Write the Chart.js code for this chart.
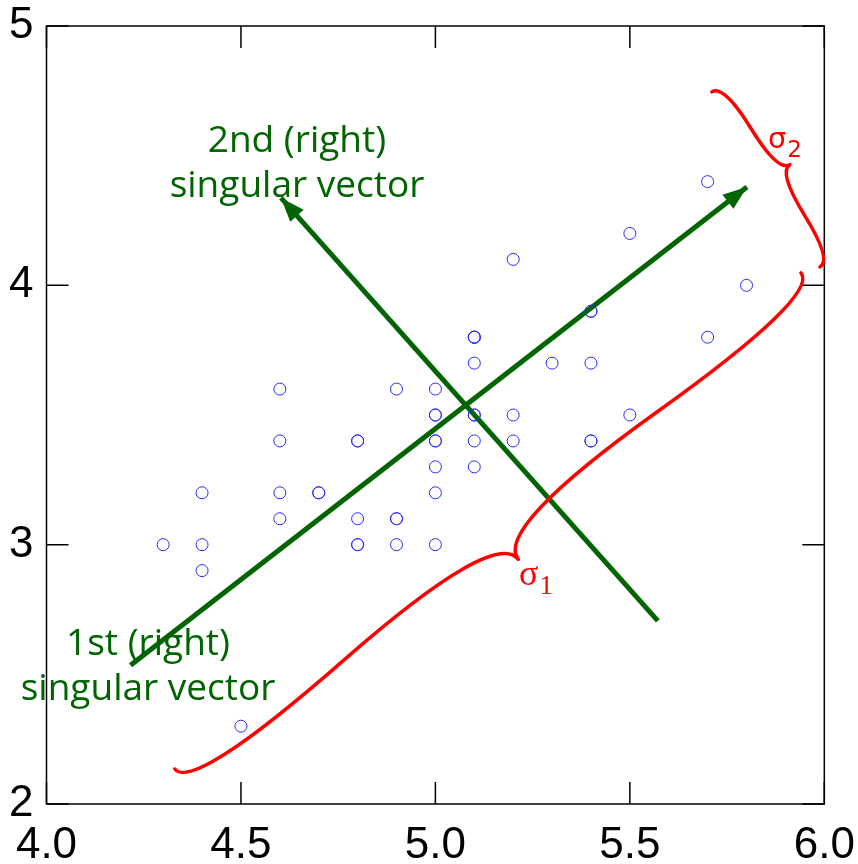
<!DOCTYPE html>
<html>
<head>
<meta charset="utf-8">
<script src="https://cdn.jsdelivr.net/npm/chart.js@4.4.0/dist/chart.umd.min.js"></script>
<style>
  html, body { margin: 0; padding: 0; background: #fff; overflow: hidden; }
  canvas { display: block; }
</style>
</head>
<body>
<canvas id="canvas" width="858" height="864"></canvas>
<script>
// points (duplicates where circles look heavier)
const sepalLength = [5.1, 4.9, 4.7, 4.6, 5.0, 5.4, 4.6, 5.0, 4.4, 4.9, 5.4, 4.8, 4.8, 4.3, 5.8, 5.7, 5.4, 5.1, 5.7, 5.1,
                     5.4, 5.1, 4.6, 5.1, 4.8, 5.0, 5.0, 5.2, 5.2, 4.7, 4.8, 5.4, 5.2, 5.5, 4.9, 5.0, 5.5, 4.9, 4.4, 5.1,
                     5.0, 4.5, 4.4, 5.0, 5.1, 4.8, 5.1, 4.6, 5.3, 5.0]
const sepalWidth  = [3.5, 3.0, 3.2, 3.1, 3.6, 3.9, 3.4, 3.4, 2.9, 3.1, 3.7, 3.4, 3.0, 3.0, 4.0, 4.4, 3.9, 3.5, 3.8, 3.8,
                     3.4, 3.7, 3.6, 3.3, 3.4, 3.0, 3.4, 3.5, 3.4, 3.2, 3.1, 3.4, 4.1, 4.2, 3.1, 3.2, 3.5, 3.6, 3.0, 3.4,
                     3.5, 2.3, 3.2, 3.5, 3.8, 3.0, 3.8, 3.2, 3.7, 3.3]

const xTicks = [4.0, 4.5, 5.0, 5.5, 6.0]
const yTicks = [2, 3, 4, 5]

// singular vector arrows (data coords)
const arrowFromX = [4.216, 5.572]
const arrowFromY = [2.535, 2.706]
const arrowToX = [5.801, 4.603]
const arrowToY = [4.379, 4.337]

// braces: end A, end B
const braceAX = [4.330, 5.989]
const braceAY = [2.135, 4.071]
const braceBX = [5.940, 5.711]
const braceBY = [4.048, 4.746]

// text labels
const vecLabels = [["2nd (right)", "singular vector"], ["1st (right)", "singular vector"]]
const vecLabelX = [4.644, 4.261]
const vecLabelY = [[4.514, 4.341], [2.575, 2.401]]
const sigmaSub = ["1", "2"]
const sigmaX = [5.215, 5.855]
const sigmaY = [2.845, 4.530]

const green = "#006400"
const points = sepalLength.map((x, i) => ({x: x, y: sepalWidth[i]}))

const datasets = [{
  label: "setosa",
  data: points,
  showLine: false,
  pointStyle: "circle",
  pointRadius: 6,
  pointBorderWidth: 1,
  pointBorderColor: "#2a2aff",
  pointBackgroundColor: "rgba(0,0,0,0)"
}]
for (var i = 0; i < arrowFromX.length; i++) {
  datasets.push({
    label: "vec" + i,
    data: [{x: arrowFromX[i], y: arrowFromY[i]}, {x: arrowToX[i], y: arrowToY[i]}],
    showLine: true,
    borderColor: green,
    borderWidth: 5,
    pointRadius: 0
  })
}

function braceGeom(x1, y1, x2, y2, w, q) {
  const len = Math.hypot(x1 - x2, y1 - y2)
  const dx = (x1 - x2) / len, dy = (y1 - y2) / len
  return {
    q1: [x1 + q * w * dy, y1 - q * w * dx],
    q2: [x1 - .25 * len * dx + (1 - q) * w * dy, y1 - .25 * len * dy - (1 - q) * w * dx],
    t: [x1 - .5 * len * dx + w * dy, y1 - .5 * len * dy - w * dx],
    q3: [x2 + q * w * dy, y2 - q * w * dx],
    q4: [x1 - .75 * len * dx + (1 - q) * w * dy, y1 - .75 * len * dy - (1 - q) * w * dx]
  }
}

const decor = {
  id: "decor",
  afterDatasetsDraw(chart) {
    const ctx = chart.ctx
    const xs = chart.scales.x, ys = chart.scales.y
    const a = chart.chartArea
    ctx.save()
    // frame + inward ticks
    ctx.strokeStyle = "#000"
    ctx.lineWidth = 1.5
    ctx.strokeRect(a.left, a.top, a.right - a.left, a.bottom - a.top)
    ctx.beginPath()
    xs.ticks.forEach(t => {
      const px = xs.getPixelForValue(t.value)
      ctx.moveTo(px, a.bottom); ctx.lineTo(px, a.bottom - 22)
      ctx.moveTo(px, a.top); ctx.lineTo(px, a.top + 22)
    })
    ys.ticks.forEach(t => {
      const py = ys.getPixelForValue(t.value)
      ctx.moveTo(a.left, py); ctx.lineTo(a.left + 22, py)
      ctx.moveTo(a.right, py); ctx.lineTo(a.right - 22, py)
    })
    ctx.stroke()

    // arrow heads
    ctx.fillStyle = green
    for (var i = 0; i < arrowToX.length; i++) {
      const x0 = xs.getPixelForValue(arrowFromX[i]), y0 = ys.getPixelForValue(arrowFromY[i])
      const x1 = xs.getPixelForValue(arrowToX[i]), y1 = ys.getPixelForValue(arrowToY[i])
      const ang = Math.atan2(y1 - y0, x1 - x0)
      ctx.beginPath()
      ctx.moveTo(x1, y1)
      ctx.lineTo(x1 - 24 * Math.cos(ang) + 9 * Math.sin(ang), y1 - 24 * Math.sin(ang) - 9 * Math.cos(ang))
      ctx.lineTo(x1 - 24 * Math.cos(ang) - 9 * Math.sin(ang), y1 - 24 * Math.sin(ang) + 9 * Math.cos(ang))
      ctx.closePath()
      ctx.fill()
    }

    // braces
    const depth = [49, 28], curl = [0.6, 0.5]
    ctx.strokeStyle = "#ff0000"
    ctx.lineWidth = 3.5
    ctx.lineCap = "round"
    for (var j = 0; j < braceAX.length; j++) {
      const x1 = xs.getPixelForValue(braceAX[j]), y1 = ys.getPixelForValue(braceAY[j])
      const x2 = xs.getPixelForValue(braceBX[j]), y2 = ys.getPixelForValue(braceBY[j])
      const g = braceGeom(x1, y1, x2, y2, depth[j], curl[j])
      ctx.beginPath()
      ctx.moveTo(x1, y1)
      ctx.quadraticCurveTo(g.q1[0], g.q1[1], g.q2[0], g.q2[1])
      ctx.quadraticCurveTo(2 * g.q2[0] - g.q1[0], 2 * g.q2[1] - g.q1[1], g.t[0], g.t[1])
      ctx.moveTo(x2, y2)
      ctx.quadraticCurveTo(g.q3[0], g.q3[1], g.q4[0], g.q4[1])
      ctx.quadraticCurveTo(2 * g.q4[0] - g.q3[0], 2 * g.q4[1] - g.q3[1], g.t[0], g.t[1])
      ctx.stroke()
    }

    // vector labels
    ctx.fillStyle = green
    ctx.font = "37px 'Open Sans'"
    ctx.textAlign = "center"
    ctx.textBaseline = "alphabetic"
    vecLabels.forEach((lines, k) => {
      lines.forEach((s, n) => {
        ctx.fillText(s, xs.getPixelForValue(vecLabelX[k]), ys.getPixelForValue(vecLabelY[k][n]))
      })
    })

    // sigma labels
    ctx.fillStyle = "#ff0000"
    ctx.textAlign = "left"
    const sigFont = ["36px 'Liberation Serif'", "29px 'DejaVu Sans'"]
    const subFont = ["27px 'Liberation Serif'", "23px 'DejaVu Sans'"]
    for (var m = 0; m < sigmaX.length; m++) {
      const px = xs.getPixelForValue(sigmaX[m]), py = ys.getPixelForValue(sigmaY[m])
      ctx.font = sigFont[m]
      ctx.fillText("σ", px, py)
      const w = ctx.measureText("σ").width
      ctx.font = subFont[m]
      ctx.fillText(sigmaSub[m], px + w + 1, py + 9)
    }
    ctx.restore()
  }
}

const tickFont = {family: "'Liberation Sans', Arial, sans-serif", size: 44, lineHeight: 1}
new Chart(document.getElementById("canvas"), {
  type: "scatter",
  data: {datasets: datasets},
  options: {
    responsive: false,
    devicePixelRatio: 1,
    animation: false,
    layout: {padding: {top: 26, right: 33.7, left: 0, bottom: 0}},
    plugins: {legend: {display: false}, tooltip: {enabled: false}},
    scales: {
      x: {
        type: "linear", min: 4, max: 6,
        afterBuildTicks: s => { s.ticks = xTicks.map(v => ({value: v})) },
        afterFit: s => { s.height = 60; s.paddingLeft = 0; s.paddingRight = 0 },
        ticks: {font: tickFont, color: "#000", padding: 20, maxRotation: 0, autoSkip: false,
                callback: v => v.toFixed(1)},
        grid: {drawOnChartArea: false, drawTicks: false},
        border: {display: false}
      },
      y: {
        type: "linear", min: 2, max: 5,
        afterBuildTicks: s => { s.ticks = yTicks.map(v => ({value: v})) },
        afterFit: s => { s.width = 46.5; s.paddingTop = 0; s.paddingBottom = 0 },
        ticks: {font: tickFont, color: "#000", padding: 13, callback: v => String(v)},
        grid: {drawOnChartArea: false, drawTicks: false},
        border: {display: false}
      }
    }
  },
  plugins: [decor]
})
</script>
</body>
</html>
